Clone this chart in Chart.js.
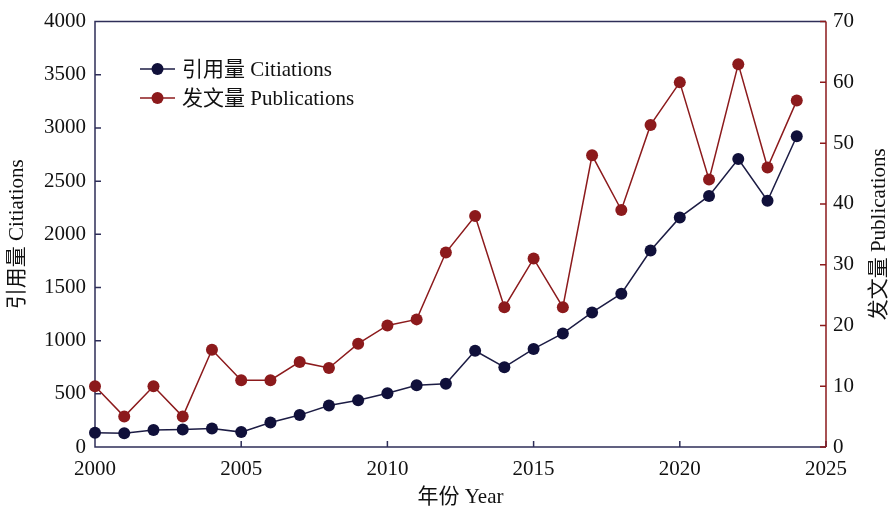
<!DOCTYPE html>
<html>
<head>
<meta charset="utf-8">
<script src="https://cdn.jsdelivr.net/npm/chart.js@4.4.1/dist/chart.umd.min.js"></script>
<style>
html, body { margin: 0; padding: 0; background: #fff; }
#wrap { width: 890px; height: 510px; }
</style>
</head>
<body>
<div id="wrap"><canvas id="c"></canvas></div>
<script>
var years = [2000, 2001, 2002, 2003, 2004, 2005, 2006, 2007, 2008, 2009, 2010, 2011, 2012,
	2013, 2014, 2015, 2016, 2017, 2018, 2019, 2020, 2021, 2022, 2023, 2024];
var citations = [135, 130, 160, 165, 175, 140, 230, 300, 390, 440, 505, 580, 595,
	905, 750, 922, 1068, 1265, 1442, 1847, 2159, 2361, 2707, 2315, 2922];
var publications = [10, 5, 10, 5, 16, 11, 11, 14, 13, 17, 20, 21, 32,
	38, 23, 31, 23, 48, 39, 53, 60, 44, 63, 46, 57];
var citationLabel = '引用量 Citiations';
var publicationLabel = '发文量 Publications';
var xTitle = '年份 Year';

var navy = '#10103a';
var navyLine = '#1c1c44';
var frameNavy = '#2e2e58';
var red = '#8c1a1c';
var font = '"Liberation Serif", "Noto Sans CJK SC", serif';

function pts(ys){
	var out = [];
	for(var i = 0; i < years.length; i++){
		out.push({x: years[i], y: ys[i]});
	}
	return out;
}

// frame, inward ticks, right title, legend
var decor = {
	id: 'decor',
	beforeDatasetsDraw: function(chart){
		var ctx = chart.ctx;
		var a = chart.chartArea;
		var sx = chart.scales.x, sy = chart.scales.y, sy1 = chart.scales.y1;
		var tl = 6;
		ctx.save();
		ctx.lineWidth = 1.5;
		ctx.strokeStyle = frameNavy;
		ctx.beginPath();
		ctx.moveTo(a.right, a.top);
		ctx.lineTo(a.left, a.top);
		ctx.lineTo(a.left, a.bottom);
		ctx.lineTo(a.right, a.bottom);
		sx.ticks.forEach(function(t){
			var px = sx.getPixelForValue(t.value);
			ctx.moveTo(px, a.bottom);
			ctx.lineTo(px, a.bottom - tl);
		});
		sy.ticks.forEach(function(t){
			var py = sy.getPixelForValue(t.value);
			ctx.moveTo(a.left, py);
			ctx.lineTo(a.left + tl, py);
		});
		ctx.stroke();
		ctx.strokeStyle = red;
		ctx.beginPath();
		ctx.moveTo(a.right, a.top);
		ctx.lineTo(a.right, a.bottom);
		sy1.ticks.forEach(function(t){
			var py = sy1.getPixelForValue(t.value);
			ctx.moveTo(a.right, py);
			ctx.lineTo(a.right - tl, py);
		});
		ctx.stroke();
		ctx.restore();
	},
	afterDraw: function(chart){
		var ctx = chart.ctx;
		var a = chart.chartArea;
		ctx.save();
		// right axis title, reading upward
		ctx.translate(879, (a.top + a.bottom) / 2);
		ctx.rotate(-Math.PI / 2);
		ctx.fillStyle = '#111';
		ctx.font = '21px ' + font;
		ctx.textAlign = 'center';
		ctx.textBaseline = 'middle';
		ctx.fillText(publicationLabel, 0, 0);
		ctx.restore();

		// legend
		var items = [
			{text: citationLabel, line: navyLine, dot: navy, y: 69},
			{text: publicationLabel, line: red, dot: red, y: 98}
		];
		ctx.save();
		ctx.font = '21px ' + font;
		ctx.textBaseline = 'middle';
		items.forEach(function(it){
			ctx.strokeStyle = it.line;
			ctx.lineWidth = 1.5;
			ctx.beginPath();
			ctx.moveTo(140, it.y);
			ctx.lineTo(175, it.y);
			ctx.stroke();
			ctx.fillStyle = it.dot;
			ctx.beginPath();
			ctx.arc(157.5, it.y, 6, 0, Math.PI * 2);
			ctx.fill();
			ctx.fillStyle = '#111';
			ctx.fillText(it.text, 182, it.y + 1);
		});
		ctx.restore();
	}
};

var tickFont = {family: font, size: 21};

new Chart(document.getElementById('c'), {
	type: 'line',
	data: {
		datasets: [
			{
				label: publicationLabel,
				data: pts(publications),
				yAxisID: 'y1',
				borderColor: red,
				backgroundColor: red,
				pointBackgroundColor: red,
				pointBorderColor: red,
				borderWidth: 1.5,
				pointRadius: 6,
				pointBorderWidth: 0,
				tension: 0,
				clip: false
			},
			{
				label: citationLabel,
				data: pts(citations),
				yAxisID: 'y',
				borderColor: navyLine,
				backgroundColor: navy,
				pointBackgroundColor: navy,
				pointBorderColor: navy,
				borderWidth: 1.5,
				pointRadius: 6,
				pointBorderWidth: 0,
				tension: 0,
				clip: false
			}
		]
	},
	options: {
		responsive: true,
		maintainAspectRatio: false,
		animation: false,
		devicePixelRatio: 1,
		layout: {padding: {top: 19, left: 0, right: 0, bottom: 0}},
		plugins: {
			legend: {display: false},
			tooltip: {enabled: false}
		},
		scales: {
			x: {
				type: 'linear',
				min: 2000,
				max: 2025,
				grid: {display: false, drawTicks: false},
				border: {display: false},
				ticks: {
					stepSize: 5,
					padding: 10,
					color: '#111',
					font: tickFont,
					maxRotation: 0,
					callback: function(v){ return String(v); }
				},
				title: {
					display: true,
					text: xTitle,
					color: '#111',
					font: tickFont,
					padding: {top: 0, bottom: 0}
				},
				afterFit: function(s){ s.height = 63; }
			},
			y: {
				position: 'left',
				min: 0,
				max: 4000,
				grid: {display: false, drawTicks: false},
				border: {display: false},
				ticks: {
					stepSize: 500,
					padding: 9,
					color: '#111',
					font: tickFont,
					callback: function(v){ return String(v); }
				},
				title: {
					display: true,
					text: citationLabel,
					color: '#111',
					font: tickFont,
					padding: {top: 5, bottom: 0}
				},
				afterFit: function(s){ s.width = 95; }
			},
			y1: {
				position: 'right',
				min: 0,
				max: 70,
				grid: {display: false, drawTicks: false},
				border: {display: false},
				ticks: {
					stepSize: 10,
					padding: 7,
					color: '#111',
					font: tickFont,
					callback: function(v){ return String(v); }
				},
				afterFit: function(s){ s.width = 64; }
			}
		}
	},
	plugins: [decor]
});
</script>
</body>
</html>
